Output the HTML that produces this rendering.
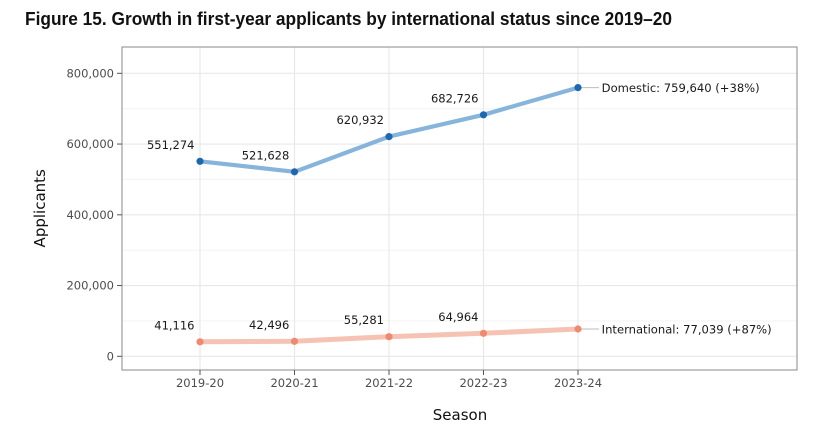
<!DOCTYPE html>
<html><head><meta charset="utf-8"><style>
html,body{margin:0;padding:0;background:#fff;}
svg{display:block;}
</style></head><body>
<svg width="830" height="444" viewBox="0 0 830 444" xmlns="http://www.w3.org/2000/svg">
<rect width="830" height="444" fill="#fff"/>
<text x="25" y="25" font-family="Liberation Sans, sans-serif" font-size="18" font-weight="bold" fill="#111" textLength="647" lengthAdjust="spacingAndGlyphs">Figure 15. Growth in first-year applicants by international status since 2019–20</text>
<!-- grid minor -->
<g stroke="#f3f3f3" stroke-width="1">
<line x1="122" x2="797" y1="320.9" y2="320.9"/>
<line x1="122" x2="797" y1="250.2" y2="250.2"/>
<line x1="122" x2="797" y1="179.4" y2="179.4"/>
<line x1="122" x2="797" y1="108.7" y2="108.7"/>
</g>
<g stroke="#e8e8e8" stroke-width="1.2">
<line x1="122" x2="797" y1="356.3" y2="356.3"/>
<line x1="122" x2="797" y1="285.55" y2="285.55"/>
<line x1="122" x2="797" y1="214.8" y2="214.8"/>
<line x1="122" x2="797" y1="144.05" y2="144.05"/>
<line x1="122" x2="797" y1="73.3" y2="73.3"/>
<line x1="200" x2="200" y1="47" y2="370"/>
<line x1="294.5" x2="294.5" y1="47" y2="370"/>
<line x1="389" x2="389" y1="47" y2="370"/>
<line x1="483.5" x2="483.5" y1="47" y2="370"/>
<line x1="578" x2="578" y1="47" y2="370"/>
</g>
<rect x="122" y="47" width="675" height="323" fill="none" stroke="#8a8a8a" stroke-width="1"/>
<!-- ticks -->
<g stroke="#555" stroke-width="1">
<line x1="117" x2="122" y1="356.3" y2="356.3"/>
<line x1="117" x2="122" y1="285.55" y2="285.55"/>
<line x1="117" x2="122" y1="214.8" y2="214.8"/>
<line x1="117" x2="122" y1="144.05" y2="144.05"/>
<line x1="117" x2="122" y1="73.3" y2="73.3"/>
<line x1="200" x2="200" y1="370" y2="375"/>
<line x1="294.5" x2="294.5" y1="370" y2="375"/>
<line x1="389" x2="389" y1="370" y2="375"/>
<line x1="483.5" x2="483.5" y1="370" y2="375"/>
<line x1="578" x2="578" y1="370" y2="375"/>
</g>
<g font-family="DejaVu Sans, sans-serif" font-size="11.5" fill="#4d4d4d" text-anchor="end">
<text x="114" y="360.5">0</text>
<text x="114" y="289.7">200,000</text>
<text x="114" y="219">400,000</text>
<text x="114" y="148.2">600,000</text>
<text x="114" y="77.5">800,000</text>
</g>
<g font-family="DejaVu Sans, sans-serif" font-size="11.5" fill="#4d4d4d" text-anchor="middle">
<text x="200" y="387">2019-20</text>
<text x="294.5" y="387">2020-21</text>
<text x="389" y="387">2021-22</text>
<text x="483.5" y="387">2022-23</text>
<text x="578" y="387">2023-24</text>
</g>
<text x="460" y="420" font-family="DejaVu Sans, sans-serif" font-size="15" fill="#111" text-anchor="middle">Season</text>
<text transform="translate(45,208.3) rotate(-90)" font-family="DejaVu Sans, sans-serif" font-size="15" fill="#111" text-anchor="middle">Applicants</text>
<!-- connectors -->
<line x1="578" x2="599" y1="87.6" y2="87.6" stroke="#bdbdbd" stroke-width="1"/>
<line x1="578" x2="599" y1="329" y2="329" stroke="#bdbdbd" stroke-width="1"/>
<!-- series -->
<polyline points="200,161.3 294.5,171.8 389,136.6 483.5,114.8 578,87.6" fill="none" stroke="#87b4da" stroke-width="4.2" stroke-linejoin="round"/>
<polyline points="200,341.8 294.5,341.3 389,336.7 483.5,333.3 578,329.0" fill="none" stroke="#f6c2b3" stroke-width="5" stroke-linejoin="round"/>
<g fill="#1f67ad">
<circle cx="200" cy="161.3" r="3.6"/>
<circle cx="294.5" cy="171.8" r="3.6"/>
<circle cx="389" cy="136.6" r="3.6"/>
<circle cx="483.5" cy="114.8" r="3.6"/>
<circle cx="578" cy="87.6" r="3.6"/>
</g>
<g fill="#ec8a72">
<circle cx="200" cy="341.8" r="3.6"/>
<circle cx="294.5" cy="341.3" r="3.6"/>
<circle cx="389" cy="336.7" r="3.6"/>
<circle cx="483.5" cy="333.3" r="3.6"/>
<circle cx="578" cy="329.0" r="3.6"/>
</g>
<g font-family="DejaVu Sans, sans-serif" font-size="11.5" fill="#1a1a1a" text-anchor="end">
<text x="194.5" y="149">551,274</text>
<text x="289.3" y="159.3">521,628</text>
<text x="384" y="124">620,932</text>
<text x="478.5" y="102.3">682,726</text>
<text x="194.5" y="329.3">41,116</text>
<text x="289.3" y="328.8">42,496</text>
<text x="384" y="324.2">55,281</text>
<text x="478.5" y="320.8">64,964</text>
</g>
<g font-family="DejaVu Sans, sans-serif" font-size="11.5" fill="#1a1a1a">
<text x="601.7" y="92.2" textLength="158" lengthAdjust="spacingAndGlyphs">Domestic: 759,640 (+38%)</text>
<text x="601.7" y="333.4" textLength="170" lengthAdjust="spacingAndGlyphs">International: 77,039 (+87%)</text>
</g>
</svg>
</body></html>
